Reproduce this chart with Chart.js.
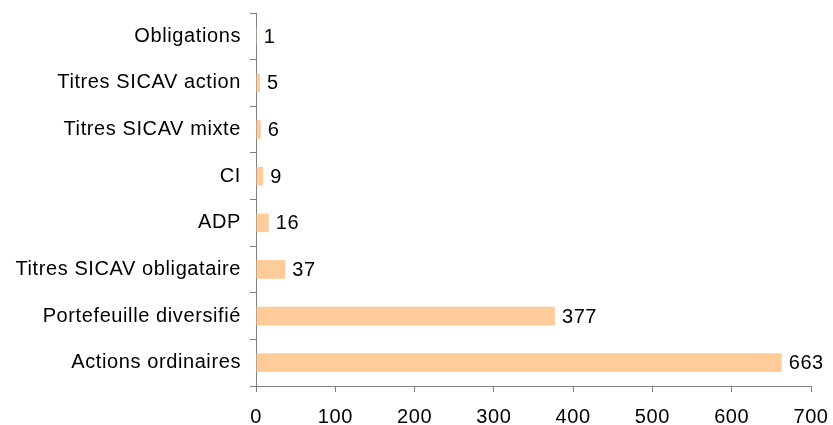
<!DOCTYPE html>
<html>
<head>
<meta charset="utf-8">
<script src="https://cdn.jsdelivr.net/npm/chart.js@4"></script>
<style>
  html, body { margin: 0; padding: 0; background: #fff; }
  #wrap { width: 833px; height: 425px; }
</style>
</head>
<body>
<div id="wrap"><canvas id="barchart"></canvas></div>
<script>
// catégories, du haut vers le bas
const categories = ['Obligations', 'Titres SICAV action', 'Titres SICAV mixte', 'CI', 'ADP',
    'Titres SICAV obligataire', 'Portefeuille diversifié', 'Actions ordinaires'];
const values = [1, 5, 6, 9, 16, 37, 377, 663];
const xTicks = [0, 100, 200, 300, 400, 500, 600, 700];

const axisColor = '#7f7f7f';
const font = { family: 'Liberation Sans, Arial, sans-serif', size: 20 };
const spacing = '0.6px';

// Espacement des lettres un peu plus large, comme sur l'original
const letterSpacing = {
    id: 'letterSpacing',
    beforeUpdate(chart) { chart.ctx.letterSpacing = spacing; },
    beforeDraw(chart) { chart.ctx.letterSpacing = spacing; }
};

// Affiche la valeur au bout de chaque barre
const valueLabels = {
    id: 'valueLabels',
    afterDatasetsDraw(chart) {
        const ctx = chart.ctx;
        const meta = chart.getDatasetMeta(0);
        ctx.save();
        ctx.letterSpacing = spacing;
        ctx.font = font.size + 'px ' + font.family;
        ctx.fillStyle = '#000';
        ctx.textBaseline = 'middle';
        ctx.textAlign = 'left';
        meta.data.forEach((bar, i) => {
            ctx.fillText(String(values[i]), bar.x + 7, bar.y + 1);
        });
        ctx.restore();
    }
};

new Chart(document.getElementById('barchart'), {
    type: 'bar',
    data: {
        labels: categories,
        datasets: [{
            data: values,
            backgroundColor: '#ffcc99',
            borderWidth: 0,
            barPercentage: 0.4,
            categoryPercentage: 1
        }]
    },
    options: {
        indexAxis: 'y',
        responsive: true,
        maintainAspectRatio: false,
        animation: false,
        layout: { padding: { left: 0, right: 22, top: 13, bottom: 0 } },
        scales: {
            x: {
                min: 0,
                max: 700,
                afterBuildTicks: (axis) => { axis.ticks = xTicks.map(v => ({ value: v })); },
                afterFit: (axis) => {
                    axis.height = 39;
                    axis.paddingLeft = 0;
                    axis.paddingRight = 0;
                },
                grid: { drawOnChartArea: false, color: axisColor, tickLength: 6 },
                border: { color: axisColor },
                ticks: { color: '#000', font: font, padding: 13, maxRotation: 0 }
            },
            y: {
                afterFit: (axis) => {
                    axis.width = 256;
                    axis.paddingTop = 0;
                    axis.paddingBottom = 0;
                },
                grid: { drawOnChartArea: false, color: axisColor, tickLength: 6, offset: true },
                border: { color: axisColor },
                ticks: { color: '#000', font: font, padding: 9 }
            }
        },
        plugins: {
            legend: { display: false },
            tooltip: { enabled: false }
        }
    },
    plugins: [letterSpacing, valueLabels]
});
</script>
</body>
</html>
